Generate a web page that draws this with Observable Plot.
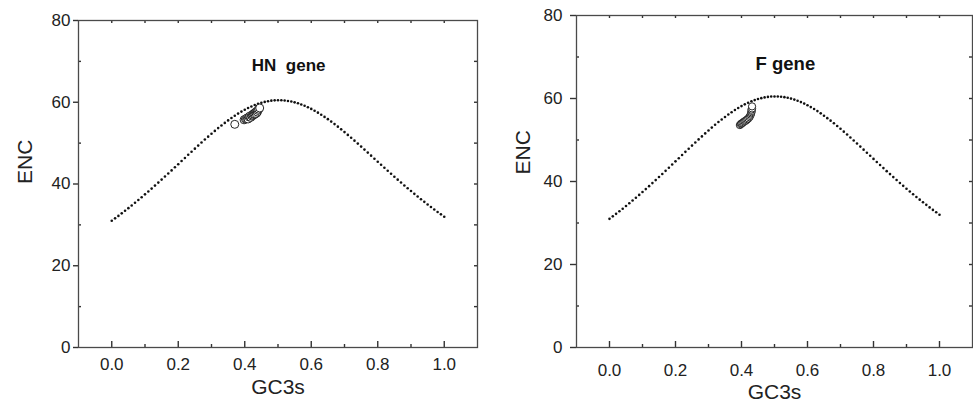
<!DOCTYPE html>
<html>
<head>
<meta charset="utf-8">
<script src="https://cdn.jsdelivr.net/npm/d3@7"></script>
<script src="https://cdn.jsdelivr.net/npm/@observablehq/plot@0.6"></script>
<style>
  body { margin: 0; background: #fff; }
  #wrap { position: relative; width: 973px; height: 410px; }
  #wrap svg { position: absolute; top: 0; }
</style>
</head>
<body>
<div id="wrap"></div>
<script>
// Expected ENC curve (GC3s, ENC)
const curveGC3s = [0.00,0.01,0.02,0.03,0.04,0.05,0.06,0.07,0.08,0.09,0.10,0.11,0.12,0.13,0.14,0.15,0.16,0.17,0.18,0.19,0.20,0.21,0.22,0.23,0.24,0.25,0.26,0.27,0.28,0.29,0.30,0.31,0.32,0.33,0.34,0.35,0.36,0.37,0.38,0.39,0.40,0.41,0.42,0.43,0.44,0.45,0.46,0.47,0.48,0.49,0.50,0.51,0.52,0.53,0.54,0.55,0.56,0.57,0.58,0.59,0.60,0.61,0.62,0.63,0.64,0.65,0.66,0.67,0.68,0.69,0.70,0.71,0.72,0.73,0.74,0.75,0.76,0.77,0.78,0.79,0.80,0.81,0.82,0.83,0.84,0.85,0.86,0.87,0.88,0.89,0.90,0.91,0.92,0.93,0.94,0.95,0.96,0.97,0.98,0.99,1.00];
const curveENC = [31.00,31.60,32.20,32.82,33.45,34.09,34.75,35.41,36.09,36.77,37.47,38.17,38.88,39.61,40.34,41.08,41.82,42.57,43.33,44.09,44.85,45.61,46.37,47.14,47.89,48.65,49.40,50.14,50.87,51.59,52.30,52.99,53.67,54.32,54.95,55.56,56.14,56.70,57.22,57.71,58.17,58.59,58.97,59.32,59.62,59.88,60.09,60.26,60.39,60.47,60.50,60.49,60.43,60.32,60.17,59.98,59.74,59.46,59.13,58.77,58.37,57.93,57.46,56.96,56.42,55.86,55.27,54.66,54.03,53.37,52.70,52.01,51.31,50.60,49.88,49.15,48.41,47.68,46.93,46.19,45.45,44.71,43.97,43.23,42.50,41.78,41.06,40.35,39.64,38.95,38.27,37.59,36.93,36.27,35.63,34.99,34.37,33.76,33.16,32.58,32.00];

// HN gene observed points
const hnGC3s = [0.370,0.398,0.402,0.405,0.408,0.410,0.413,0.415,0.418,0.420,0.422,0.424,0.425,0.427,0.428,0.430,0.431,0.433,0.435,0.436,0.438,0.440,0.442,0.445];
const hnENC  = [54.6,55.7,55.9,56.0,56.2,55.9,56.4,56.6,56.3,56.8,56.6,57.0,56.8,57.2,57.0,57.4,57.1,57.6,57.3,57.8,57.6,58.0,58.3,58.6];

// F gene observed points
const fGC3s = [0.395,0.398,0.400,0.403,0.406,0.409,0.412,0.415,0.418,0.421,0.424,0.426,0.428,0.429,0.430,0.431,0.430,0.432,0.432];
const fENC  = [53.6,53.8,54.0,54.1,54.3,54.5,54.6,54.8,55.0,55.2,55.5,55.8,56.1,56.4,56.7,57.0,57.3,57.6,58.1];

// Axes / labels
const xTicks = [0.0,0.2,0.4,0.6,0.8,1.0];
const xMinor = [0.1,0.3,0.5,0.7,0.9];
const xTopTicks = [0.0,0.1,0.2,0.3,0.4,0.5,0.6,0.7,0.8,0.9,1.0];
const yTicks = [0,20,40,60,80];
const yMinor = [10,30,50,70];
const yRightTicks = [10,20,30,40,50,60,70];
const xLabel = "GC3s";
const yLabel = "ENC";
const panelTitles = ["HN\u00a0 gene", "F gene"];

const curve = curveGC3s.map((x, i) => ({x, y: curveENC[i]}));
const hn = hnGC3s.map((x, i) => ({x, y: hnENC[i]}));
const fg = fGC3s.map((x, i) => ({x, y: fENC[i]}));

function panel(o) {
  const fw = o.width - o.ml - o.mr;   // frame width in px
  const fh = 410 - o.mt - o.mb;       // frame height in px
  const TS = {stroke: "#333", strokeWidth: 1.4};
  return Plot.plot({
    width: o.width, height: 410,
    marginLeft: o.ml, marginRight: o.mr, marginTop: o.mt, marginBottom: o.mb,
    style: {fontFamily: "'Liberation Sans', Arial, sans-serif", fontSize: "17px", color: "#222", background: "white", overflow: "visible"},
    x: {domain: [-0.1, 1.1]},
    y: {domain: [0, 80]},
    marks: [
      Plot.axisX(xTicks, {tickSize: 0, tickPadding: o.xPad, tickFormat: d => d.toFixed(1), label: null}),
      Plot.axisY(yTicks, {tickSize: 0, tickPadding: o.yPad, label: null}),
      Plot.text([xLabel], {text: d => d, frameAnchor: "bottom", dy: o.xLabDy, fontSize: 21, fill: "#222"}),
      Plot.text([yLabel], {text: d => d, frameAnchor: "left", dx: o.yLabDx, dy: o.yLabDy, rotate: -90, fontSize: 21, fill: "#222"}),
      // bottom ticks (inward)
      Plot.tickX(xTicks, {x: d => d, insetTop: fh - 6, ...TS}),
      Plot.tickX(xMinor, {x: d => d, insetTop: fh - 3, ...TS}),
      // top ticks (inward)
      Plot.tickX(xTopTicks, {x: d => d, insetBottom: fh - 3, ...TS}),
      // left major ticks (outward), minor (inward)
      Plot.tickY(yTicks, {y: d => d, insetLeft: -o.yTick, insetRight: fw, ...TS}),
      Plot.tickY(yMinor, {y: d => d, insetRight: fw - 3, ...TS}),
      // right ticks (inward)
      Plot.tickY(yRightTicks, {y: d => d, insetLeft: fw - 3, ...TS}),
      Plot.frame({stroke: "#4a4a4a", strokeWidth: 1.3}),
      Plot.dot(curve, {x: "x", y: "y", r: 1.3, fill: "#111", stroke: null}),
      Plot.dot(o.pts, {x: "x", y: "y", r: o.r, fill: "white", stroke: "#111", strokeWidth: 0.9}),
      Plot.text([o.title], {text: d => d, x: o.tx, y: o.ty, fontSize: o.tfs, fontWeight: "bold", fill: "#111"})
    ]
  });
}

const wrap = document.getElementById("wrap");
const left = panel({width: 490, ml: 78, mr: 13, mt: 20, mb: 63, xPad: 10, yPad: 8, yTick: 5,
  xLabDy: 46, yLabDx: -53, yLabDy: 0, pts: hn, r: 4, title: panelTitles[0], tx: 0.532, ty: 69, tfs: 17});
left.style.left = "0px";
const right = panel({width: 483, ml: 86, mr: 1, mt: 15, mb: 63, xPad: 16, yPad: 14, yTick: 6,
  xLabDy: 51, yLabDx: -53.5, yLabDy: -7, pts: fg, r: 3.6, title: panelTitles[1], tx: 0.533, ty: 68.4, tfs: 18.5});
right.style.left = "490px";
wrap.appendChild(left);
wrap.appendChild(right);
</script>
</body>
</html>
